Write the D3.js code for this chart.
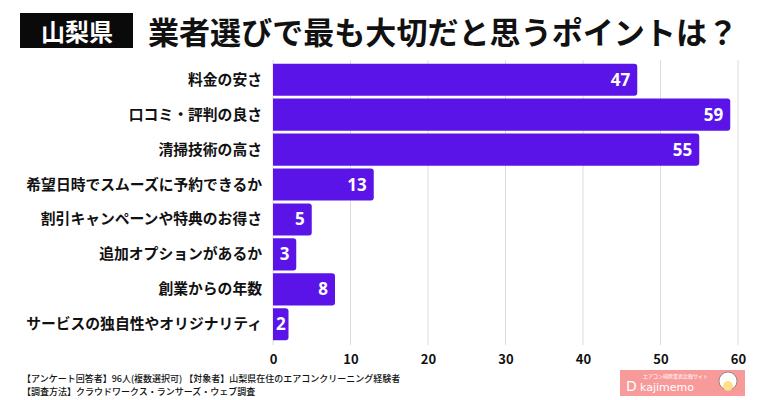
<!DOCTYPE html>
<html><head><meta charset="utf-8">
<script src="https://cdn.jsdelivr.net/npm/d3@7"></script>
<style>
html,body{margin:0;padding:0;background:#fff;}
svg{display:block;font-family:"Noto Sans CJK JP","Noto Sans",sans-serif;}
</style></head>
<body><svg id="c" width="760" height="400"></svg>
<script>
const categories = ["料金の安さ","口コミ・評判の良さ","清掃技術の高さ","希望日時でスムーズに予約できるか","割引キャンペーンや特典のお得さ","追加オプションがあるか","創業からの年数","サービスの独自性やオリジナリティ"];
const values = [47,59,55,13,5,3,8,2];
const ticks = [0,10,20,30,40,50,60];
const titleBadge = "山梨県";
const titleText = "業者選びで最も大切だと思うポイントは？";
const notes = ["【アンケート回答者】96人(複数選択可) 【対象者】山梨県在住のエアコンクリーニング経験者","【調査方法】クラウドワークス・ランサーズ・ウェブ調査"];

const svg = d3.select("#c");
const x = d3.scaleLinear().domain([0,60]).range([273,738]);
const y = d3.scaleBand().domain(categories).range([63,341]).paddingInner(0.08).paddingOuter(0.02);

// title
svg.append("rect").attr("x",20).attr("y",13).attr("width",113).attr("height",35).attr("fill","#0a0a0a");
svg.append("text").attr("x",77).attr("y",40.5).attr("text-anchor","middle").attr("fill","#fff")
  .attr("font-size",24).attr("font-weight",700).text(titleBadge);
svg.append("text").attr("x",148).attr("y",44).attr("fill","#111")
  .attr("font-size",31).attr("font-weight",700)
  .attr("textLength",590).attr("lengthAdjust","spacingAndGlyphs").text(titleText);

// grid
svg.append("g").selectAll("line").data(ticks).join("line")
  .attr("x1",d=>x(d)).attr("x2",d=>x(d)).attr("y1",60).attr("y2",345)
  .attr("stroke","#dcdcdc").attr("stroke-width",1);

// axis labels
const ax = svg.append("g").attr("transform","translate(0,345)")
  .call(d3.axisBottom(x).tickValues(ticks).tickSize(0).tickPadding(10));
ax.select(".domain").remove();
ax.selectAll("text").attr("font-size",13).attr("font-weight",700).attr("fill","#111")
  .attr("font-family","'Noto Sans CJK JP',sans-serif");

// bars
const r = 3;
function barPath(d){
  const x0 = x(0), x1 = x(d.v), y0 = y(d.c), h = y.bandwidth();
  return `M${x0},${y0}H${x1-r}Q${x1},${y0} ${x1},${y0+r}V${y0+h-r}Q${x1},${y0+h} ${x1-r},${y0+h}H${x0}Z`;
}
const data = categories.map((c,i)=>({c, v: values[i]}));
svg.append("g").selectAll("path").data(data).join("path")
  .attr("d",barPath).attr("fill","#5b14e8");

svg.append("g").selectAll("text").data(data).join("text")
  .attr("x",d=> d.v < 5 ? (x(0)+x(d.v))/2 : x(d.v)-7)
  .attr("text-anchor",d=> d.v < 5 ? "middle" : "end")
  .attr("y",d=>y(d.c)+y.bandwidth()/2+6)
  .attr("fill","#fff").attr("font-size",17).attr("font-weight",700)
  .attr("font-family","'Noto Sans','Noto Sans CJK JP',sans-serif")
  .text(d=>d.v);

// category labels
svg.append("g").selectAll("text").data(categories).join("text")
  .attr("x",262).attr("y",d=>y(d)+y.bandwidth()/2+5)
  .attr("text-anchor","end").attr("font-size",14.8).attr("font-weight",700).attr("fill","#111")
  .text(d=>d);

// notes
svg.append("g").selectAll("text").data(notes).join("text")
  .attr("x",22).attr("y",(d,i)=>382+i*13).attr("font-size",9).attr("font-weight",500).attr("fill","#111")
  .text(d=>d);

// logo
const lg = svg.append("g");
lg.append("rect").attr("x",620).attr("y",370).attr("width",125).attr("height",26).attr("fill","#f99a9a");
lg.append("text").attr("x",643).attr("y",377.5).attr("font-size",5).attr("fill","#fff").text("エアコン掃除業者比較サイト");
lg.append("text").attr("x",626).attr("y",391).attr("font-size",14).attr("fill","#fff")
  .attr("font-family","'DejaVu Sans',sans-serif").text("D");
lg.append("text").attr("x",640).attr("y",391).attr("font-size",11).attr("fill","#fff")
  .attr("font-family","'DejaVu Sans',sans-serif").text("kajimemo");
lg.append("circle").attr("cx",728).attr("cy",381).attr("r",9).attr("fill","#fff").attr("stroke","#555").attr("stroke-width",0.6);
lg.append("circle").attr("cx",728).attr("cy",386).attr("r",5).attr("fill","#ffe08a");
</script></body></html>
